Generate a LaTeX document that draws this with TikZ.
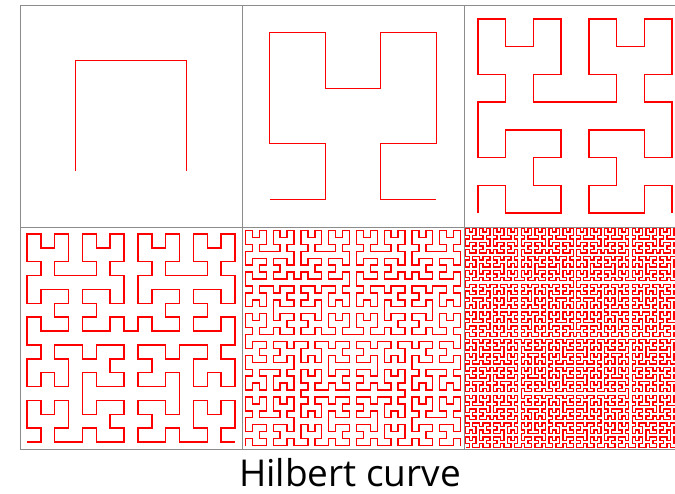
\documentclass[tikz,border=0pt]{standalone}
\usepackage{fontspec}
\setmainfont{Open Sans}
\usetikzlibrary{lindenmayersystems}

\pgfdeclarelindenmayersystem{Hilbert}{
  \rule{A -> +BF-AFA-FB+}
  \rule{B -> -AF+BFB+FA-}
}

\begin{document}
\begin{tikzpicture}[x=1pt, y=1pt,
  panel/.style={rectangle, draw=black!45, line width=0.8pt, inner sep=0pt, outer sep=0pt,
    minimum width=222pt, minimum height=222pt, anchor=south west},
  curve/.style={draw=red, line width=1.4pt},
]
  \useasboundingbox (0,0) rectangle (675,494);
  \foreach \n in {1,...,6}{
    \pgfmathsetmacro{\px}{20+222*mod(\n-1,3)}
    \pgfmathsetmacro{\py}{\n<4 ? 267 : 45}
    \pgfmathsetmacro{\st}{222/2^\n}
    \pgfmathsetmacro{\h}{\st/2}
    \node[panel] (p\n) at (\px,\py) {};
    \draw[curve, shift={(\px+\h,\py+\h)},
      lindenmayer system={Hilbert, axiom=A, order=\n, step=\st pt, angle=90}]
      lindenmayer system;
  }
  \node[font=\fontsize{37}{40}\selectfont, anchor=base] (title) at (350,7) {Hilbert curve};
\end{tikzpicture}
\end{document}
